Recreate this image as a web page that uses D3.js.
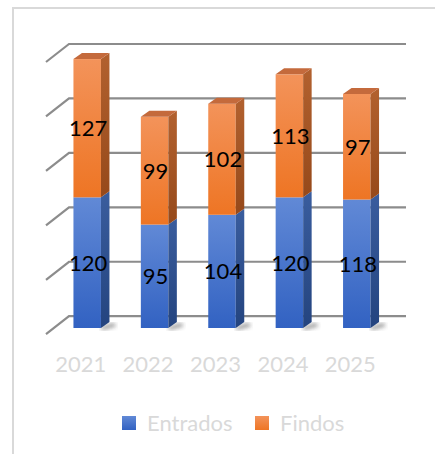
<!DOCTYPE html>
<html><head><meta charset="utf-8">
<script src="https://cdn.jsdelivr.net/npm/d3@7"></script>
<style>html,body{margin:0;padding:0;background:#fff;}svg{display:block;}</style>
</head><body>
<svg id="c" width="435" height="454"></svg>
<script>
const years = ["2021","2022","2023","2024","2025"];
const entrados = [120, 95, 104, 120, 118];
const findos = [127, 99, 102, 113, 97];
const seriesNames = ["Entrados","Findos"];
const yTicks = [0, 50, 100, 150, 200, 250];

const svg = d3.select("#c");
const FONT = "Lato, 'Open Sans', sans-serif";

// chart border
svg.append("line").attr("x1",13).attr("y1",8).attr("x2",13).attr("y2",454).attr("stroke","#d9d9d9").attr("stroke-width",2);
svg.append("line").attr("x1",12).attr("y1",8).attr("x2",435).attr("y2",8).attr("stroke","#d9d9d9").attr("stroke-width",2);

const x = d3.scaleBand().domain(years).range([69, 406]).padding(0);
const y = d3.scaleLinear().domain([0, 250]).range([316.2, 44]);
const step = x.step();
const depthX = -23, depthY = 18;   // floor depth (back wall to front)
const barDX = 8.5, barDY = -6;      // bar side depth
const frontOff = 11.8;              // bar front plane offset (px down)
const faceW = 27.5;

const defs = svg.append("defs");
function grad(id, c1, c2) {
  const g = defs.append("linearGradient").attr("id", id).attr("x1",0).attr("y1",0).attr("x2",0).attr("y2",1);
  g.append("stop").attr("offset","0%").attr("stop-color",c1);
  g.append("stop").attr("offset","100%").attr("stop-color",c2);
}
grad("gBlue", "#6189d6", "#3262c2");
grad("gOrange", "#f3935a", "#ee7524");
grad("gBlueSide", "#3a5d9e", "#24447f");
grad("gOrangeSide", "#b2612f", "#96491a");
defs.append("filter").attr("id","blur").append("feGaussianBlur").attr("stdDeviation",2);

// gridlines
const grid = svg.append("g");
yTicks.forEach(t => {
  const yy = y(t);
  grid.append("path")
    .attr("d", `M${69+depthX},${yy+depthY}L69,${yy}L406,${yy}`)
    .attr("fill","none").attr("stroke","#8c8c8c").attr("stroke-width",2.2);
});

// bars
const colors = {
  Entrados: {front:"url(#gBlue)", side:"url(#gBlueSide)", top:"#4a70b8"},
  Findos: {front:"url(#gOrange)", side:"url(#gOrangeSide)", top:"#c46a3c"}
};
const bars = svg.append("g");
years.forEach((yr, i) => {
  const left = x(yr) + step/2 - 15.5 - faceW/2;
  const right = left + faceW;
  const base = y(0) + frontOff;
  // floor shadow
  bars.append("path")
    .attr("d", `M${right},${base-1}L${right+barDX+4},${base-5}L${right+barDX+7},${base-2}L${right+1},${base+2}Z`)
    .attr("fill","#333").attr("opacity",0.55).attr("filter","url(#blur)");
  const segs = [
    {name:"Entrados", v0:0, v1:entrados[i]},
    {name:"Findos", v0:entrados[i], v1:entrados[i]+findos[i]}
  ];
  segs.forEach((s, si) => {
    const yb = y(s.v0) + frontOff, yt = y(s.v1) + frontOff;
    const c = colors[s.name];
    bars.append("rect").attr("x",left).attr("y",yt).attr("width",faceW).attr("height",yb-yt).attr("fill",c.front);
    bars.append("path")
      .attr("d", `M${right},${yb}L${right+barDX},${yb+barDY}L${right+barDX},${yt+barDY}L${right},${yt}Z`)
      .attr("fill",c.side);
    if (si === segs.length-1) {
      bars.append("path")
        .attr("d", `M${left},${yt}L${left+barDX},${yt+barDY}L${right+barDX},${yt+barDY}L${right},${yt}Z`)
        .attr("fill",c.top);
    }
    bars.append("text")
      .attr("x", left + faceW/2 + 1)
      .attr("y", (yb+yt)/2)
      .attr("dy","0.36em")
      .attr("text-anchor","middle")
      .attr("font-family",FONT).attr("font-size",22).attr("fill","#000")
      .text(s.v1 - s.v0);
  });
});

// category labels
years.forEach(yr => {
  svg.append("text")
    .attr("x", x(yr) + step/2 - 22)
    .attr("y", 372)
    .attr("text-anchor","middle")
    .attr("font-family",FONT).attr("font-size",22).attr("fill","#d9d9d9")
    .text(yr);
});

// legend
const legend = [
  {name: seriesNames[0], x:122, fill:"url(#gBlue)"},
  {name: seriesNames[1], x:255, fill:"url(#gOrange)"}
];
legend.forEach(l => {
  svg.append("rect").attr("x",l.x).attr("y",416).attr("width",14).attr("height",14).attr("fill",l.fill);
  svg.append("text").attr("x",l.x+25).attr("y",431)
    .attr("font-family",FONT).attr("font-size",22).attr("fill","#d9d9d9").text(l.name);
});
</script>
</body></html>
